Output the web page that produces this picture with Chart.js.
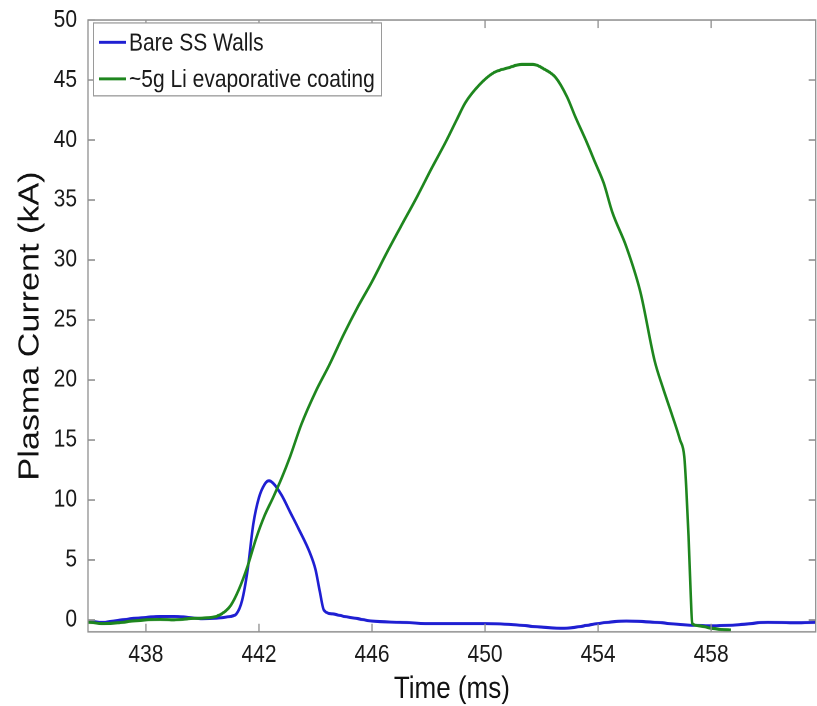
<!DOCTYPE html>
<html>
<head>
<meta charset="utf-8">
<script src="https://cdn.jsdelivr.net/npm/chart.js@4/dist/chart.umd.min.js"></script>
<style>
  html, body { margin: 0; padding: 0; background: #fff; }
  #outer { width: 817px; height: 706px; overflow: hidden; position: relative; }
  /* the source figure is stretched vertically, so the chart is drawn at 817x600 and scaled */
  #wrap { width: 817px; height: 600px; transform: scaleY(1.176667); transform-origin: 0 0; }
</style>
</head>
<body>
<div id="outer"><div id="wrap"><canvas id="chart"></canvas></div></div>
<script>
// Bare SS walls shot
const blueTime = [435.95, 436.5, 437.0, 437.5, 438.0, 438.5, 439.0, 439.5, 440.0, 440.5,
                  441.0, 441.2, 441.4, 441.6, 441.8, 442.0, 442.2, 442.35, 442.5, 442.8,
                  443.1, 443.4, 443.8, 444.0, 444.15, 444.3, 444.6, 445.0, 445.5, 446.0,
                  447.0, 448.0, 449.0, 450.0, 451.0, 452.0, 452.8, 453.5, 454.0, 455.0,
                  456.0, 457.0, 458.0, 459.0, 460.0, 461.0, 461.7];
const blueCurrent = [-0.1, -0.2, -0.05, 0.1, 0.2, 0.3, 0.3, 0.2, 0.1, 0.15,
                     0.3, 0.5, 1.6, 4.2, 8.0, 10.2, 11.3, 11.6, 11.4, 10.4,
                     9.0, 7.6, 5.6, 4.2, 2.4, 0.8, 0.5, 0.3, 0.1, -0.1,
                     -0.2, -0.3, -0.3, -0.3, -0.4, -0.6, -0.7, -0.5, -0.3, -0.1,
                     -0.2, -0.4, -0.5, -0.4, -0.2, -0.25, -0.2];

// Li coated shot
const greenTime = [435.95, 436.5, 437.0, 437.5, 438.0, 438.5, 439.0, 439.5, 440.0, 440.5,
                   440.8, 441.0, 441.3, 441.6, 441.9, 442.2, 442.5, 442.8, 443.1, 443.5,
                   444.0, 444.5, 445.0, 445.5, 446.0, 446.5, 447.0, 447.6, 448.1, 448.6,
                   449.0, 449.3, 449.8, 450.3, 450.8, 451.3, 451.7, 452.1, 452.5, 452.9,
                   453.2, 453.6, 453.9, 454.2, 454.5, 455.0, 455.5, 456.0, 456.3, 456.6,
                   456.9, 457.05, 457.12, 457.2, 457.28, 457.33, 457.6, 458.0, 458.4, 458.7];
const greenCurrent = [-0.2, -0.3, -0.25, -0.1, 0.0, 0.05, 0.0, 0.1, 0.15, 0.3,
                      0.7, 1.2, 2.6, 4.5, 6.8, 8.7, 10.2, 11.8, 13.6, 16.3,
                      19.0, 21.3, 23.8, 26.1, 28.2, 30.5, 32.7, 35.3, 37.6, 39.8,
                      41.7, 43.1, 44.6, 45.6, 46.0, 46.3, 46.3, 45.9, 45.2, 43.6,
                      41.9, 39.8, 38.1, 36.4, 34.0, 31.1, 27.3, 21.6, 19.3, 17.2,
                      15.0, 13.6, 11.0, 7.0, 2.0, -0.3, -0.5, -0.7, -0.8, -0.85];

const seriesNames = ['Bare SS Walls', '~5g Li evaporative coating'];
const xTicks = [438, 442, 446, 450, 454, 458];
const yTicks = [0, 5, 10, 15, 20, 25, 30, 35, 40, 45, 50];

const FONT = '"Liberation Sans", Arial, Helvetica, sans-serif';
const axisGray = '#8f8f8f';

function points(xs, ys) {
    return xs.map((x, i) => ({ x: x, y: ys[i] }));
}

// matlab style box with inward ticks
const framePlugin = {
    id: 'frame',
    afterDatasetsDraw(chart) {
        const { ctx, chartArea: a, scales } = chart;
        ctx.save();
        ctx.strokeStyle = axisGray;
        ctx.lineWidth = 1.3;
        ctx.strokeRect(a.left, a.top, a.right - a.left, a.bottom - a.top);
        ctx.beginPath();
        scales.x.ticks.forEach(t => {
            const px = scales.x.getPixelForValue(t.value);
            ctx.moveTo(px, a.bottom); ctx.lineTo(px, a.bottom - 7);
            ctx.moveTo(px, a.top); ctx.lineTo(px, a.top + 7);
        });
        scales.y.ticks.forEach(t => {
            const py = scales.y.getPixelForValue(t.value);
            ctx.moveTo(a.left, py); ctx.lineTo(a.left + 7, py);
            ctx.moveTo(a.right, py); ctx.lineTo(a.right - 7, py);
        });
        ctx.stroke();
        ctx.restore();
    }
};

const legendPlugin = {
    id: 'boxLegend',
    afterDraw(chart) {
        const ctx = chart.ctx;
        const box = { x: 93, y: 19, w: 288, h: 62 };
        ctx.save();
        ctx.fillStyle = '#fff';
        ctx.fillRect(box.x, box.y, box.w, box.h);
        ctx.strokeStyle = '#9a9a9a';
        ctx.lineWidth = 1;
        ctx.strokeRect(box.x + 0.5, box.y + 0.5, box.w, box.h);
        ctx.font = '21px ' + FONT;
        ctx.textBaseline = 'middle';
        chart.data.datasets.forEach((ds, i) => {
            const cy = box.y + 17 + i * 31;
            ctx.strokeStyle = ds.borderColor;
            ctx.lineWidth = 2.4;
            ctx.beginPath();
            ctx.moveTo(box.x + 6, cy);
            ctx.lineTo(box.x + 33, cy);
            ctx.stroke();
            ctx.fillStyle = '#1a1a1a';
            ctx.fillText(ds.label, box.x + 36, cy + 1);
        });
        ctx.restore();
    }
};

new Chart(document.getElementById('chart'), {
    type: 'line',
    data: {
        datasets: [{
            label: seriesNames[0],
            data: points(blueTime, blueCurrent),
            borderColor: '#1f1fd2',
            borderWidth: 2.6,
            pointRadius: 0,
            cubicInterpolationMode: 'monotone',
            order: 2
        }, {
            label: seriesNames[1],
            data: points(greenTime, greenCurrent),
            borderColor: '#1e861e',
            borderWidth: 2.6,
            pointRadius: 0,
            cubicInterpolationMode: 'monotone',
            order: 1
        }]
    },
    options: {
        responsive: true,
        maintainAspectRatio: false,
        animation: false,
        devicePixelRatio: 2,
        layout: { padding: { top: 17, right: 1, bottom: 0, left: 0 } },
        plugins: {
            legend: { display: false },
            tooltip: { enabled: false }
        },
        scales: {
            x: {
                type: 'linear',
                min: 435.95,
                max: 461.7,
                grid: { display: false },
                border: { display: false },
                afterBuildTicks: scale => { scale.ticks = xTicks.map(v => ({ value: v })); },
                afterFit: scale => { scale.height = 63; },
                ticks: {
                    color: '#1a1a1a',
                    font: { family: FONT, size: 21 },
                    padding: -1,
                    maxRotation: 0,
                    callback: v => String(v)
                },
                title: {
                    display: true,
                    text: 'Time (ms)',
                    color: '#111',
                    font: { family: FONT, size: 26, lineHeight: 1 },
                    padding: { top: 0, bottom: 1 }
                }
            },
            y: {
                type: 'linear',
                min: -1,
                max: 50,
                grid: { display: false },
                border: { display: false },
                afterBuildTicks: scale => { scale.ticks = yTicks.map(v => ({ value: v })); },
                afterFit: scale => { scale.width = 88; },
                ticks: {
                    color: '#1a1a1a',
                    font: { family: FONT, size: 21 },
                    padding: 3
                },
                title: {
                    display: true,
                    text: 'Plasma Current (kA)',
                    color: '#111',
                    font: { family: FONT, size: 29, lineHeight: 1 },
                    padding: { top: 16, bottom: 0 }
                }
            }
        }
    },
    plugins: [framePlugin, legendPlugin]
});
</script>
</body>
</html>
